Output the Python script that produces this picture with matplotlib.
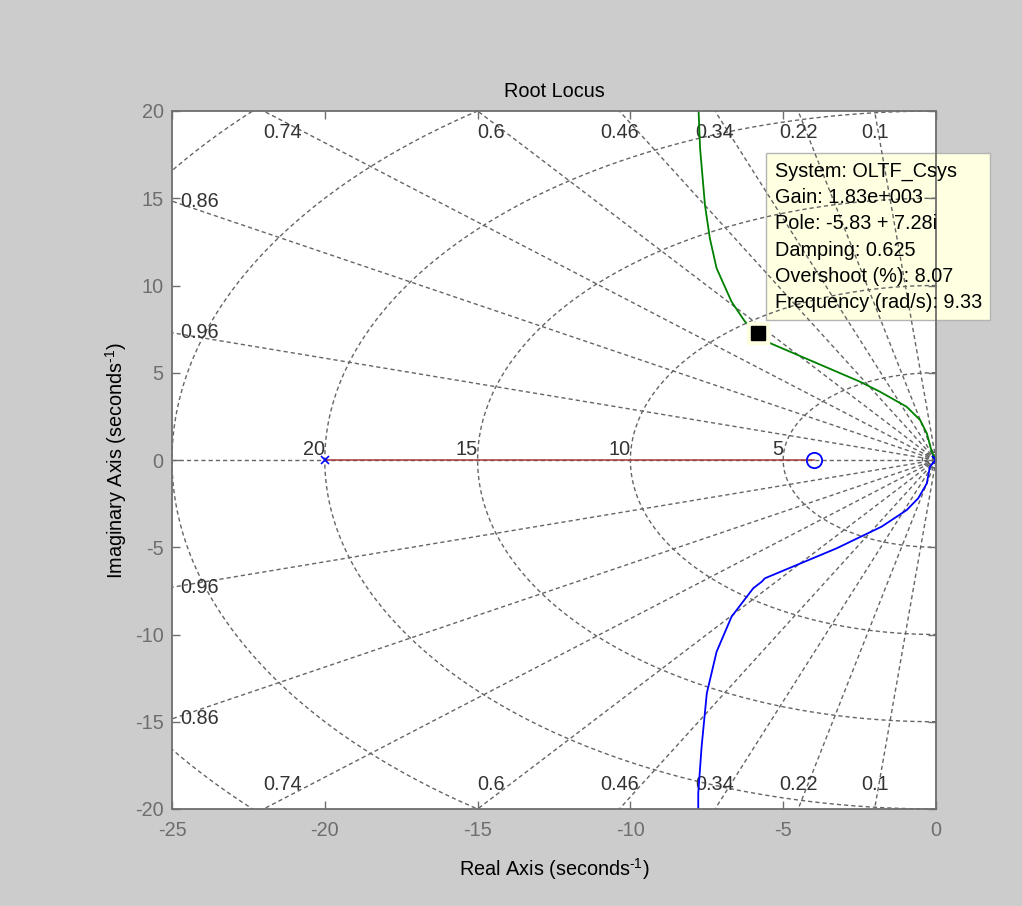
import numpy as np
import matplotlib
matplotlib.use("Agg")
import matplotlib.pyplot as plt

# ---------------- data ----------------
x_ticks = [-25, -20, -15, -10, -5, 0]
y_ticks = [-20, -15, -10, -5, 0, 5, 10, 15, 20]

zeta_vals = [0.1, 0.22, 0.34, 0.46, 0.6, 0.74, 0.86, 0.96]
wn_vals = [5, 10, 15, 20, 25, 30]
wn_small = [0.15, 0.3, 0.45]
wn_labels = [5, 10, 15, 20]

# upper (green) branch
upper_re = [0.0, -0.14, -0.30, -0.52, -0.96, -1.83, -2.49, -5.54, -5.83, -6.25,
            -6.69, -7.18, -7.40, -7.56, -7.72, -7.78]
upper_im = [0.0, 0.48, 1.53, 2.29, 3.05, 3.91, 4.49, 6.78, 7.28, 7.93,
            9.07, 10.99, 12.70, 14.61, 17.86, 20.5]
# lower (blue) branch
lower_re = [0.0, -0.20, -0.30, -0.58, -0.96, -1.78, -3.25, -5.60, -5.70, -5.98,
            -6.19, -6.69, -7.18, -7.50, -7.67, -7.78, -7.78]
lower_im = [0.0, -0.38, -1.34, -2.19, -2.87, -3.82, -5.06, -6.78, -6.97, -7.35,
            -7.83, -8.98, -10.99, -13.37, -16.43, -19.10, -20.5]
# real-axis (red) branch
real_re = [-20.0, -4.0]
real_im = [0.0, 0.0]

pole_re = [-20.0, 0.0, 0.0]
pole_im = [0.0, 0.0, 0.0]
zero_re = [-4.0]
zero_im = [0.0]

tip_re = -5.83
tip_im = 7.28
tip_lines = ["System: OLTF_Csys", "Gain: 1.83e+003", "Pole: -5.83 + 7.28i",
             "Damping: 0.625", "Overshoot (%): 8.07", "Frequency (rad/s): 9.33"]

# ---------------- figure ----------------
plt.rcParams['font.family'] = ['Liberation Sans', 'DejaVu Sans']
plt.rcParams['mathtext.fontset'] = 'custom'
plt.rcParams['mathtext.rm'] = 'Liberation Sans'
plt.rcParams['mathtext.it'] = 'Liberation Sans:italic'
plt.rcParams['mathtext.bf'] = 'Liberation Sans:bold'
FS = 14.3
W, H = 1022, 906
fig = plt.figure(figsize=(W / 100, H / 100), dpi=100, facecolor='#cccccc')
ax = fig.add_axes([172 / W, 1 - 809 / H, 764 / W, 698 / H])
ax.set_facecolor('white')
xmin, xmax, ymin, ymax = -25, 0, -20, 20
ax.set_xlim(xmin, xmax)
ax.set_ylim(ymin, ymax)

gcol = '#656565'
gls = (0, (3.0, 2.2))
glw = 1.0

# damping lines
for z in zeta_vals:
    r = 100
    for sign in (1, -1):
        ax.plot([0, -r * z], [0, sign * r * np.sqrt(1 - z ** 2)], color=gcol,
                ls=gls, lw=glw, zorder=1)
ax.plot([xmin, 0], [0, 0], color=gcol, ls=gls, lw=glw, zorder=1)
ax.plot([0, 0], [ymin, ymax], color=gcol, ls=gls, lw=glw, zorder=1)

# frequency circles
th = np.linspace(np.pi / 2, 3 * np.pi / 2, 400)
for wn in list(wn_vals) + list(wn_small):
    ax.plot(wn * np.cos(th), wn * np.sin(th), color=gcol, ls=gls, lw=glw, zorder=1)

lab_col = '#333333'
# damping labels
for z in zeta_vals:
    s = np.sqrt(1 - z ** 2) / z
    xc = -ymax / s
    if xc >= xmin:
        ha = 'left' if z >= 0.6 else 'center'
        ax.annotate(f"{z:g}", xy=(xc, ymax), xytext=(0, -22), textcoords='offset pixels',
                    ha=ha, va='center', fontsize=FS, color=lab_col, zorder=3)
        ax.annotate(f"{z:g}", xy=(xc, ymin), xytext=(0, 24), textcoords='offset pixels',
                    ha=ha, va='center', fontsize=FS, color=lab_col, zorder=3)
    else:
        yc = -xmin * s
        for sign in (1, -1):
            ax.annotate(f"{z:g}", xy=(xmin, sign * yc), xytext=(8, 0),
                        textcoords='offset pixels', ha='left', va='center',
                        fontsize=FS, color=lab_col, zorder=3)
# frequency labels
for wn in wn_labels:
    ax.annotate(f"{wn:g}", xy=(-wn, 0), xytext=(0, 1), textcoords='offset pixels',
                ha='right', va='bottom', fontsize=FS, color=lab_col, zorder=3)

# locus branches
ax.plot(real_re, real_im, color='#a83a3a', lw=1.1, zorder=4)
ax.plot(upper_re, upper_im, color='#008000', lw=1.3, zorder=4)
ax.plot(lower_re, lower_im, color='#0000ff', lw=1.3, zorder=4)

# poles and zeros
ax.plot(pole_re, pole_im, ls='none', marker='x', ms=6, mew=1.2, color='#0000ff', zorder=5)
ax.plot(zero_re, zero_im, ls='none', marker='o', ms=11, mew=1.3, mfc='none',
        color='#0000ff', zorder=5)

# data tip marker
ax.plot([tip_re], [tip_im], ls='none', marker='s', ms=16, mfc='#ffffe1', mec='#ffffe1',
        zorder=6, clip_on=False)
ax.plot([tip_re], [tip_im], ls='none', marker='s', ms=10, mfc='black', mec='black',
        zorder=7, clip_on=False)
tip_text = "\n".join(tip_lines)
tip_kw = dict(xy=(tip_re, tip_im), xycoords='data', xytext=(17, 171),
              textcoords='offset pixels', ha='left', va='top', fontsize=FS,
              linespacing=1.48, annotation_clip=False)
# box (below grid lines so the grid shows through, as in the reference)
ax.annotate(tip_text, color='none', zorder=0.5,
            bbox=dict(boxstyle='square,pad=0.42', fc='#ffffe1', ec='#b4b4b4', lw=1),
            **tip_kw)
# text on top
ax.annotate(tip_text, color='black', zorder=10, **tip_kw)

# axes styling
ax.set_xticks(x_ticks)
ax.set_yticks(y_ticks)
ax.set_xticklabels([f"{v:g}" for v in x_ticks])
ax.set_yticklabels([f"{v:g}" for v in y_ticks])
scol = '#6e6e6e'
for sp in ax.spines.values():
    sp.set_color(scol)
    sp.set_linewidth(1.3)
    sp.set_zorder(9)
ax.tick_params(direction='in', length=6, width=1, color=scol, labelcolor=scol,
               labelsize=FS, top=True, right=True)
ax.tick_params(axis='x', pad=9)
ax.tick_params(axis='y', pad=6)
ax.set_title("Root Locus", fontsize=FS, color='black', pad=10)
ax.set_xlabel(r"Real Axis (seconds$^{\text{-1}}$)", fontsize=FS, color='black', labelpad=11)
ax.set_ylabel(r"Imaginary Axis (seconds$^{\text{-1}}$)", fontsize=FS, color='black', labelpad=4)

fig.savefig("out.png", dpi=100, facecolor=fig.get_facecolor())
